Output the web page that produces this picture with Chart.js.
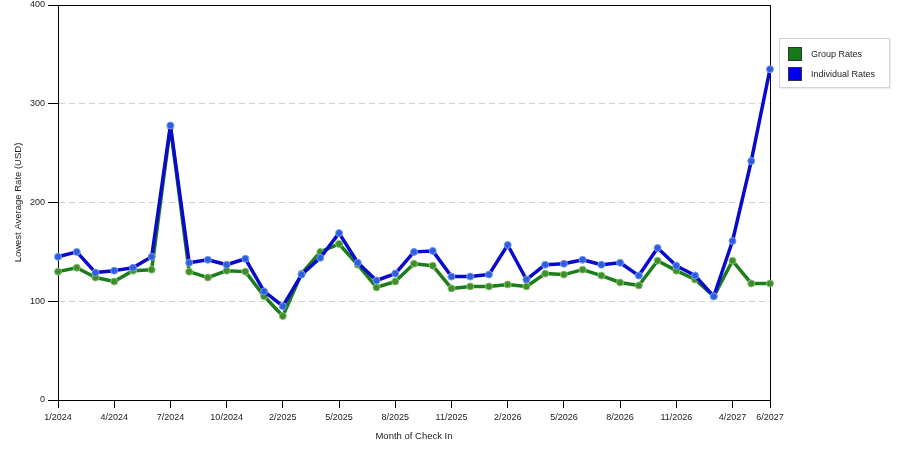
<!DOCTYPE html>
<html>
<head>
<meta charset="utf-8">
<script src="https://cdn.jsdelivr.net/npm/chart.js@4"></script>
<style>
body{margin:0;background:#fff;font-family:"Liberation Sans",Arial,sans-serif;}
#wrap{position:relative;width:900px;height:450px;}
#legend{position:absolute;left:779px;top:38px;width:109px;height:48px;border:1px solid #d4d4d4;box-shadow:1px 1px 1px #eee;background:#fff;}
.item{position:absolute;left:8px;font-size:9px;color:#222;height:14px;line-height:14px;}
.sw{display:inline-block;width:12px;height:12px;border:1px solid #333;vertical-align:top;margin-right:9px;}
</style>
</head>
<body>
<div id="wrap">
<canvas id="chart" width="900" height="450"></canvas>
<div id="legend"></div>
</div>
<script>
// x categories (a few months have no data and are absent)
const months = [
    "1/2024","2/2024","3/2024","4/2024","5/2024","6/2024","7/2024","8/2024","9/2024","10/2024","11/2024","12/2024",
    "2/2025","3/2025","4/2025","5/2025","6/2025","7/2025","8/2025","9/2025","10/2025","11/2025","12/2025",
    "1/2026","2/2026","3/2026","4/2026","5/2026","6/2026","7/2026","8/2026","9/2026","10/2026","11/2026","12/2026",
    "3/2027","4/2027","5/2027","6/2027"
];

const groupRates = [
    130,134,124,120,131,132,277,130,124,131,130,105,85,
    128,150,158,137,114,120,138,136,113,115,115,117,115,
    128,127,132,126,119,116,141,131,122,105,141,118,118
];

const individualRates = [
    145,150,129,131,134,145,278,139,142,137,143,110,95,
    127,144,169,139,121,128,150,151,125,125,127,157,122,
    137,138,142,137,139,126,154,136,126,105,161,242,335
];

const yTicks = [0,100,200,300,400];

const seriesNames = ["Group Rates","Individual Rates"];

const last = months.length - 1;
function shown(i){
    return i % 3 === 0 || i === last;
}

const font9 = {family:"'Liberation Sans', Arial, sans-serif", size:9};
const fontTitle = {family:"'Liberation Sans', Arial, sans-serif", size:9.5};

// black frame round the plot area
const frame = {
    id:"frame",
    beforeDatasetsDraw(chart){
        const a = chart.chartArea;
        const c = chart.ctx;
        c.save();
        c.strokeStyle = "#000";
        c.lineWidth = 1;
        c.strokeRect(Math.round(a.left)+0.5, Math.round(a.top)+0.5, Math.round(a.right-a.left), Math.round(a.bottom-a.top));
        c.restore();
    }
};

const chart = new Chart(document.getElementById("chart"),{
    type:"line",
    data:{
        labels:months,
        datasets:[{
            label:seriesNames[0],
            data:groupRates,
            borderColor:"#1b7d1b",
            backgroundColor:"#157a15",
            pointBackgroundColor:"#3d8f2c",
            pointBorderColor:"#8cbf72",
            pointBorderWidth:1,
            pointRadius:3.5,
            borderWidth:3.5,
            borderJoinStyle:"round",
            order:1
        },{
            label:seriesNames[1],
            data:individualRates,
            borderColor:"#0a0acc",
            backgroundColor:"#0000ee",
            pointBackgroundColor:"#2a5fe0",
            pointBorderColor:"#7d97ec",
            pointBorderWidth:1,
            pointRadius:3.5,
            borderWidth:3.5,
            borderJoinStyle:"round",
            order:0
        }]
    },
    options:{
        responsive:false,
        animation:false,
        devicePixelRatio:1,
        layout:{padding:{left:0,top:5,right:130,bottom:0}},
        plugins:{
            legend:{display:false},
            tooltip:{enabled:false}
        },
        scales:{
            x:{
                offset:false,
                afterFit(s){ s.height = 50; },
                border:{color:"#000",width:1},
                grid:{
                    drawOnChartArea:false,
                    drawTicks:true,
                    tickLength:8,
                    tickColor:c => shown(c.index) ? "#000" : "rgba(0,0,0,0)"
                },
                ticks:{
                    autoSkip:false,
                    maxRotation:0,
                    padding:4,
                    color:"#222",
                    font:font9,
                    callback:(v,i) => shown(i) ? months[i] : ""
                },
                title:{
                    display:true,
                    text:"Month of Check In",
                    color:"#222",
                    font:fontTitle,
                    padding:{top:0,bottom:8}
                }
            },
            y:{
                min:yTicks[0],
                max:yTicks[yTicks.length-1],
                afterFit(s){ s.width = 58; s.paddingTop = 0; s.paddingBottom = 0; },
                afterBuildTicks(s){ s.ticks = yTicks.map(v => ({value:v})); },
                border:{color:"#000",width:1,dash:[6,4]},
                grid:{
                    color:"#d0d0d0",
                    lineWidth:1,
                    tickLength:10,
                    tickColor:"#000",
                    tickBorderDash:[]
                },
                ticks:{
                    padding:3,
                    color:"#222",
                    font:font9
                },
                title:{
                    display:true,
                    text:"Lowest Average Rate (USD)",
                    color:"#222",
                    font:fontTitle,
                    padding:{top:13,bottom:0}
                }
            }
        }
    },
    plugins:[frame]
});

// legend box on the right, built from the datasets
let html = "";
chart.data.datasets.forEach((d,i) => {
    html += `<div class="item" style="top:${8 + i*20}px"><span class="sw" style="background:${d.backgroundColor}"></span>${d.label}</div>`;
});
document.getElementById("legend").innerHTML = html;
</script>
</body>
</html>
